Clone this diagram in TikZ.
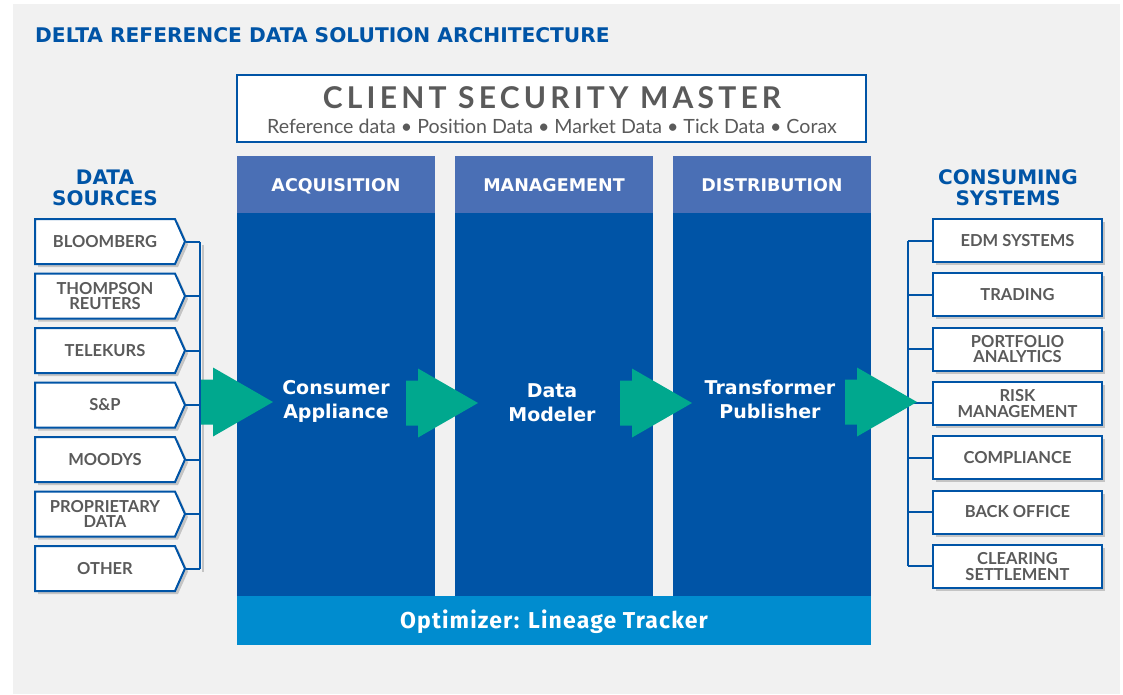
\documentclass[tikz,border=0pt]{standalone}
\usepackage{fontspec}
\setmainfont{Lato}
\newfontfamily\heavyfont{DejaVu Sans}
\newfontfamily\barfont{Fira Sans}[LetterSpace=5]
\newfontfamily\masterfont{Lato}[LetterSpace=14]
\usetikzlibrary{shapes.symbols,shadows}

\definecolor{deltablue}{HTML}{0054A6}
\definecolor{headblue}{HTML}{4A6FB5}
\definecolor{barblue}{HTML}{008CCF}
\definecolor{arrowgreen}{HTML}{00A88E}
\definecolor{panelgray}{HTML}{F1F1F1}
\definecolor{labelgray}{HTML}{5A5A5A}
\definecolor{shadowgray}{HTML}{C4C4C4}

\tikzset{
	boxshadow/.style={drop shadow={shadow xshift=3pt, shadow yshift=-3pt, fill=shadowgray, opacity=1}},
	source/.style={signal, signal to=east, signal pointer angle=132, draw=deltablue, line width=2pt, fill=white,
		minimum width=150pt, minimum height=45pt, inner sep=0pt, anchor=west, align=center, text=labelgray,
		font=\bfseries\fontsize{16.5}{15}\selectfont, boxshadow},
	target/.style={rectangle, draw=deltablue, line width=2pt, fill=white, minimum width=169pt, minimum height=43pt,
		inner sep=0pt, align=center, text=labelgray, font=\bfseries\fontsize{16.5}{15.5}\selectfont, boxshadow},
	colbody/.style={rectangle, fill=deltablue, minimum width=198pt, minimum height=383pt, inner sep=0pt},
	colhead/.style={rectangle, fill=headblue, minimum width=198pt, minimum height=57pt, inner sep=0pt, text=white,
		text depth=0pt, font=\heavyfont\bfseries\fontsize{17.5}{20}\selectfont},
	coltext/.style={align=center, text=white, font=\heavyfont\bfseries\fontsize{19}{24}\selectfont},
	heading/.style={align=center, text=deltablue, font=\heavyfont\bfseries\fontsize{20}{21}\selectfont},
	bus/.style={draw=deltablue, line width=2pt},
}

\def\flowarrow(#1,#2){\fill[arrowgreen] (#1-72,#2-22.5) -- (#1-60,#2-22.5) -- (#1-60,#2-34.5) -- (#1,#2)
	-- (#1-60,#2+34.5) -- (#1-60,#2+22.5) -- (#1-72,#2+22.5) -- cycle;}

\begin{document}
\begin{tikzpicture}[x=1pt,y=-1pt]
	%%%%% START %%%%%
	\useasboundingbox (0,0) rectangle (1123,694);
	\fill[white] (0,0) rectangle (1123,694);
	\fill[panelgray] (13,4) rectangle (1120,694);
	
	\node[anchor=base west, inner sep=0pt, text=deltablue, font=\heavyfont\bfseries\fontsize{20.2}{24}\selectfont] (title) at (35,42)
		{DELTA REFERENCE DATA SOLUTION ARCHITECTURE};
	
	% security master
	\node[rectangle, draw=deltablue, line width=2.5pt, fill=white, minimum width=629pt, minimum height=67pt] (master) at (551.5,108.5) {};
	\node[anchor=base, inner sep=0pt, text=labelgray, font=\masterfont\bfseries\fontsize{30}{32}\selectfont] (mastertitle) at (552,108)
		{CLIENT SECURITY MASTER};
	\node[anchor=base, inner sep=0pt, text=labelgray, font=\fontsize{19.6}{21}\selectfont] (masterdata) at (552,133)
		{Reference data • Position Data • Market Data • Tick Data • Corax};
	
	% columns
	\node[colbody] (acq) at (336,404.5) {};
	\node[colbody] (mgmt) at (554,404.5) {};
	\node[colbody] (dist) at (772,404.5) {};
	\node[colhead] (acqhead) at (336,184.5) {ACQUISITION};
	\node[colhead] (mgmthead) at (554,184.5) {MANAGEMENT};
	\node[colhead] (disthead) at (772,184.5) {DISTRIBUTION};
	\node[coltext] (consumer) at (336,401) {Consumer\\Appliance};
	\node[coltext] (modeler) at (552,403) {Data\\Modeler};
	\node[coltext] (publisher) at (770,399.5) {Transformer\\Publisher};
	
	\node[rectangle, fill=barblue, minimum width=634pt, minimum height=49pt] (tracker) at (554,620) {};
	\node[anchor=base, inner sep=0pt, text=white, font=\barfont\bfseries\fontsize{23}{24}\selectfont] (trackertext) at (554,628.5)
		{Optimizer: Lineage Tracker};
	
	% data sources
	\node[heading] (sources) at (105,188) {DATA\\SOURCES};
	\node[source] (bloomberg) at (34,241.5) {BLOOMBERG};
	\node[source] (reuters) at (34,296) {THOMPSON\\REUTERS};
	\node[source] (telekurs) at (34,350.5) {TELEKURS};
	\node[source] (sandp) at (34,405) {S\&P};
	\node[source] (moodys) at (34,459.5) {MOODYS};
	\node[source] (proprietary) at (34,514) {PROPRIETARY\\DATA};
	\node[source] (other) at (34,568.5) {OTHER};
	
	\coordinate (lbustop) at (200,241.5);
	\coordinate (lbusbot) at (200,568.5);
	\draw[shadowgray, line width=2pt] ([xshift=3pt,yshift=-3pt]lbustop) -- ([xshift=3pt,yshift=-3pt]lbusbot);
	\draw[bus] (lbustop) -- (lbusbot);
	\draw[bus] (bloomberg.east) -- (bloomberg.east -| lbustop);
	\draw[bus] (reuters.east) -- (reuters.east -| lbustop);
	\draw[bus] (telekurs.east) -- (telekurs.east -| lbustop);
	\draw[bus] (sandp.east) -- (sandp.east -| lbustop);
	\draw[bus] (moodys.east) -- (moodys.east -| lbustop);
	\draw[bus] (proprietary.east) -- (proprietary.east -| lbustop);
	\draw[bus] (other.east) -- (other.east -| lbustop);
	
	% consuming systems
	\node[heading] (consumers) at (1008,188) {CONSUMING\\SYSTEMS};
	\node[target] (edm) at (1017.5,240.5) {EDM SYSTEMS};
	\node[target] (trading) at (1017.5,294.8) {TRADING};
	\node[target] (portfolio) at (1017.5,349.1) {PORTFOLIO\\ANALYTICS};
	\node[target] (risk) at (1017.5,403.4) {RISK\\MANAGEMENT};
	\node[target] (compliance) at (1017.5,457.7) {COMPLIANCE};
	\node[target] (backoffice) at (1017.5,512) {BACK OFFICE};
	\node[target] (clearing) at (1017.5,566.3) {CLEARING\\SETTLEMENT};
	
	\coordinate (rbustop) at (908,240.5);
	\coordinate (rbusbot) at (908,566.3);
	\draw[bus] (rbustop) -- (rbusbot);
	\draw[bus] (edm.west -| rbustop) -- (edm.west);
	\draw[bus] (trading.west -| rbustop) -- (trading.west);
	\draw[bus] (portfolio.west -| rbustop) -- (portfolio.west);
	\draw[bus] (risk.west -| rbustop) -- (risk.west);
	\draw[bus] (compliance.west -| rbustop) -- (compliance.west);
	\draw[bus] (backoffice.west -| rbustop) -- (backoffice.west);
	\draw[bus] (clearing.west -| rbustop) -- (clearing.west);
	
	% flow arrows
	\flowarrow(273,402)
	\flowarrow(478,403)
	\flowarrow(692,403)
	\flowarrow(917,402)
	%%%%% END %%%%%
\end{tikzpicture}
\end{document}
